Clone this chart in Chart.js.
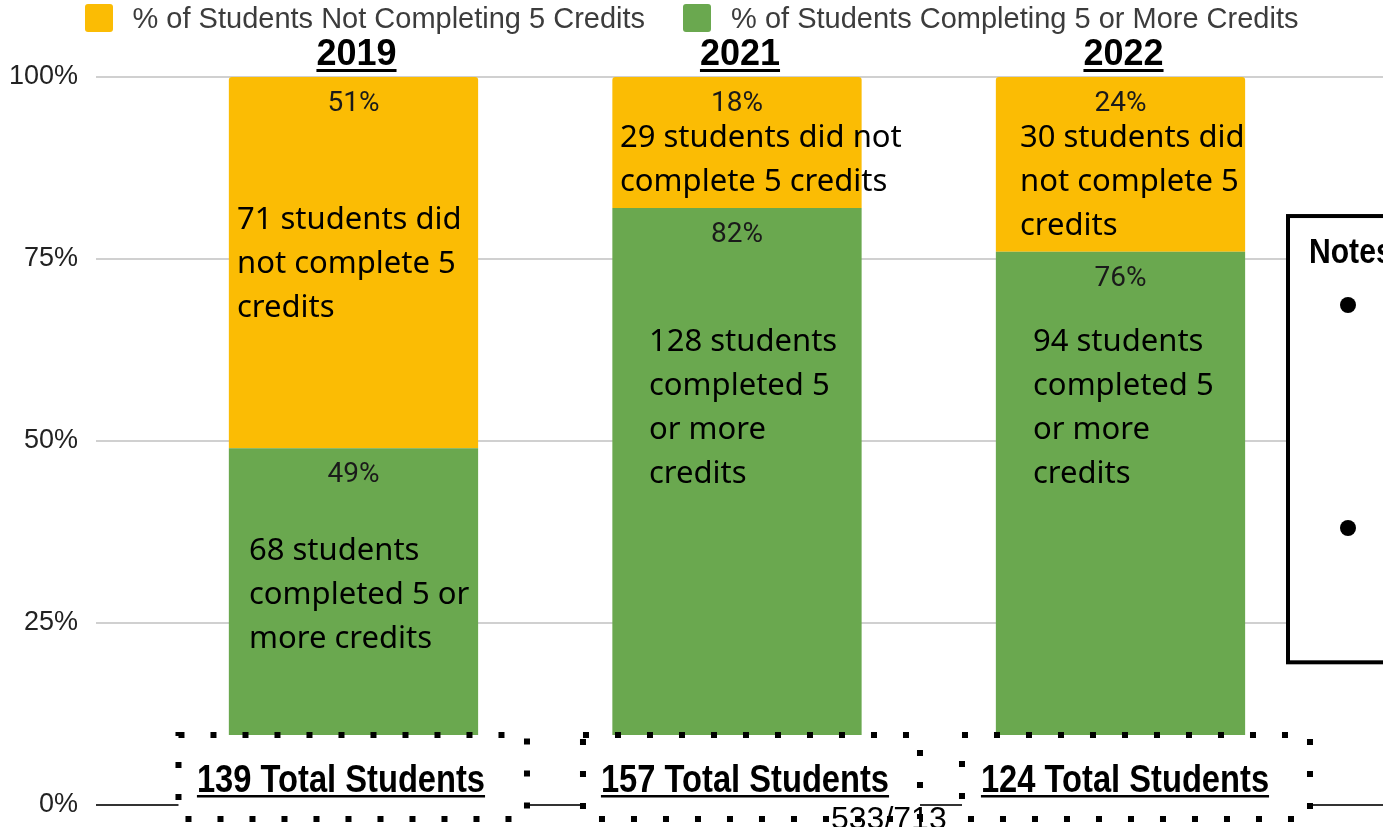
<!DOCTYPE html>
<html>
<head>
<meta charset="utf-8">
<title>Credit Completion by Year</title>
<script src="https://cdn.jsdelivr.net/npm/chart.js@4.4.1/dist/chart.umd.min.js"></script>
<style>
    html, body {
        margin: 0;
        padding: 0;
        background: #fff;
        overflow: hidden;
    }

    .wrap {
        position: relative;
        width: 1383px;
        height: 827px;
    }

    #creditChart {
        position: absolute;
        left: 0;
        top: 0;
    }

    .legend {
        position: absolute;
        left: 0;
        top: 0;
        width: 1383px;
        display: flex;
        justify-content: center;
        gap: 38px;
        font-family: 'Liberation Sans', Arial, sans-serif;
        font-size: 29px;
        color: #3c3c3c;
    }

    .legend-item {
        display: flex;
        align-items: center;
        height: 36px;
        white-space: nowrap;
    }

    .legend-swatch {
        width: 28px;
        height: 28px;
        border-radius: 3px;
        margin-right: 20px;
    }
</style>
</head>
<body>
<div class="wrap">
    <canvas id="creditChart" width="1383" height="827"></canvas>
    <div class="legend" id="legend"></div>
</div>

<script>
// 数据
const categories = ['2019', '2021', '2022'];
const completingPct = [49, 82, 76];
const notCompletingPct = [51, 18, 24];
const completedCounts = [68, 128, 94];
const notCompletedCounts = [71, 29, 30];
const totalStudents = [139, 157, 124];
const yTickValues = [0, 25, 50, 75, 100];
const seriesNames = ['% of Students Not Completing 5 Credits', '% of Students Completing 5 or More Credits'];
const pageLabel = '533/713';

const COLOR_NOT = '#fbbc04';
const COLOR_DONE = '#6aa84f';

// 粗体窄字：没有窄体字体，横向压缩
const NARROW_FAMILY = '"Liberation Sans", Arial, sans-serif';
const NARROW_SCALE = 0.86;

// 注释文字框的位置：相对于每根柱子的中心，y 用百分比刻度
const notLayout = [
    { dx: -116.5, y: 79.1, width: 240 },
    { dx: -117, y: 90.4, width: 290 },
    { dx: -100.5, y: 90.4, width: 240 }
];
const doneLayout = [
    { dx: -104.5, y: 33.7, width: 240 },
    { dx: -88, y: 62.3, width: 200 },
    { dx: -87.5, y: 62.3, width: 200 }
];
// 底部虚线框
const totalLayout = [
    { boxDx: -0.75, boxW: 348.5, textDx: -12.5 },
    { boxDx: 14.5, boxW: 337, textDx: 8 },
    { boxDx: 15.5, boxW: 348, textDx: 4.5 }
];

document.addEventListener('DOMContentLoaded', function() {
    buildLegend();
    initChart();
});

// 图例
function buildLegend() {
    const legend = document.getElementById('legend');
    const colors = [COLOR_NOT, COLOR_DONE];
    seriesNames.forEach((name, i) => {
        const item = document.createElement('div');
        item.className = 'legend-item';
        item.innerHTML = `<span class="legend-swatch" style="background:${colors[i]}"></span><span>${name}</span>`;
        legend.appendChild(item);
    });
}

// 按宽度折行
function wrapLines(ctx, text, maxWidth) {
    const words = text.split(' ');
    const lines = [];
    let line = '';
    words.forEach(word => {
        const test = line ? line + ' ' + word : word;
        if (line && ctx.measureText(test).width > maxWidth) {
            lines.push(line);
            line = word;
        } else {
            line = test;
        }
    });
    if (line) lines.push(line);
    return lines;
}

function drawUnderlined(ctx, text, x, y, offset, thickness) {
    const w = ctx.measureText(text).width;
    ctx.fillText(text, x, y);
    ctx.fillRect(x - w / 2, y + offset, w, thickness);
}

// 压缩后的粗体文字（可选下划线）
function drawNarrow(ctx, text, x, y, size, align, underline) {
    ctx.save();
    ctx.translate(x, y);
    ctx.scale(NARROW_SCALE, 1);
    ctx.font = `bold ${size}px ${NARROW_FAMILY}`;
    ctx.textAlign = align;
    ctx.fillText(text, 0, 0);
    if (underline) {
        const w = ctx.measureText(text).width;
        const left = align === 'center' ? -w / 2 : 0;
        ctx.fillRect(left, 3, w, 2.5);
    }
    ctx.restore();
}

function drawDottedBox(ctx, x, y, w, h) {
    ctx.save();
    ctx.fillStyle = '#fff';
    ctx.fillRect(x, y, w, h);
    ctx.strokeStyle = '#000';
    ctx.lineWidth = 6;
    ctx.lineCap = 'butt';
    ctx.setLineDash([6, 26]);
    ctx.strokeRect(x, y, w, h);
    ctx.restore();
}

// 柱内标签、注释、年份、虚线框等
const overlayPlugin = {
    id: 'overlays',
    afterDatasetsDraw(chart) {
        const ctx = chart.ctx;
        const xs = chart.scales.x;
        const ys = chart.scales.y;

        // 百分比标签
        ctx.save();
        ctx.font = '28px Roboto, "Liberation Sans", sans-serif';
        ctx.fillStyle = '#1a1a1a';
        ctx.textAlign = 'center';
        ctx.textBaseline = 'middle';
        chart.data.datasets.forEach((ds, di) => {
            chart.getDatasetMeta(di).data.forEach((bar, i) => {
                ctx.fillText(ds.data[i].y + '%', bar.x, bar.y + 27);
            });
        });
        ctx.restore();

        // 学生人数说明
        ctx.save();
        ctx.font = '31px "Noto Sans", sans-serif';
        ctx.fillStyle = '#000';
        ctx.textAlign = 'left';
        ctx.textBaseline = 'alphabetic';
        categories.forEach((c, i) => {
            const cx = xs.getPixelForValue(i);
            const notes = [
                [notCompletedCounts[i] + ' students did not complete 5 credits', notLayout[i]],
                [completedCounts[i] + ' students completed 5 or more credits', doneLayout[i]]
            ];
            notes.forEach(([text, pos]) => {
                const lines = wrapLines(ctx, text, pos.width);
                const top = ys.getPixelForValue(pos.y);
                lines.forEach((ln, k) => {
                    ctx.fillText(ln, cx + pos.dx, top + k * 44);
                });
            });
        });
        ctx.restore();
    },
    afterDraw(chart) {
        const ctx = chart.ctx;
        const xs = chart.scales.x;
        const ys = chart.scales.y;
        const area = chart.chartArea;
        const yZero = ys.getPixelForValue(0);

        // 年份标题
        ctx.save();
        ctx.font = 'bold 36px "Liberation Sans", Arial, sans-serif';
        ctx.fillStyle = '#000';
        ctx.textAlign = 'center';
        categories.forEach((c, i) => {
            drawUnderlined(ctx, c, xs.getPixelForValue(i) + 3, area.top - 12, 4, 3);
        });
        ctx.restore();

        // 总人数虚线框
        categories.forEach((c, i) => {
            const cx = xs.getPixelForValue(i);
            const t = totalLayout[i];
            drawDottedBox(ctx, cx + t.boxDx - t.boxW / 2, yZero - 70, t.boxW, 84);
        });
        ctx.save();
        ctx.fillStyle = '#000';
        categories.forEach((c, i) => {
            const cx = xs.getPixelForValue(i);
            drawNarrow(ctx, totalStudents[i] + ' Total Students', cx + totalLayout[i].textDx, yZero - 13, 38, 'center', true);
        });
        ctx.restore();

        // 右侧备注框
        ctx.save();
        const boxTop = ys.getPixelForValue(80.9);
        const boxBottom = ys.getPixelForValue(19.6);
        ctx.fillStyle = '#fff';
        ctx.fillRect(1288, boxTop, 140, boxBottom - boxTop);
        ctx.strokeStyle = '#000';
        ctx.lineWidth = 4;
        ctx.strokeRect(1288, boxTop, 140, boxBottom - boxTop);
        ctx.fillStyle = '#000';
        drawNarrow(ctx, 'Notes', 1309, boxTop + 47, 35, 'left', false);
        [305, 528].forEach(by => {
            ctx.beginPath();
            ctx.arc(1348, by, 8, 0, Math.PI * 2);
            ctx.fill();
        });
        ctx.restore();

        // 页码
        ctx.save();
        ctx.font = '32px "Liberation Sans", Arial, sans-serif';
        ctx.fillStyle = '#000';
        ctx.textAlign = 'left';
        ctx.fillText(pageLabel, 831, 829);
        ctx.restore();
    }
};

function initChart() {
    const canvas = document.getElementById('creditChart');
    new Chart(canvas, {
        type: 'bar',
        data: {
            datasets: [{
                label: seriesNames[1],
                data: completingPct.map((v, i) => ({ x: i, y: v })),
                backgroundColor: COLOR_DONE,
                borderWidth: 0
            }, {
                label: seriesNames[0],
                data: notCompletingPct.map((v, i) => ({ x: i, y: v })),
                backgroundColor: COLOR_NOT,
                borderWidth: 0,
                borderRadius: { topLeft: 3, topRight: 3, bottomLeft: 0, bottomRight: 0 },
                borderSkipped: 'start'
            }]
        },
        options: {
            responsive: false,
            animation: false,
            devicePixelRatio: 1,
            categoryPercentage: 1,
            barPercentage: 0.65,
            layout: {
                padding: { top: 77, bottom: 22, left: 0, right: 0 }
            },
            plugins: {
                legend: { display: false },
                tooltip: { enabled: false }
            },
            scales: {
                x: {
                    type: 'linear',
                    display: false,
                    stacked: true,
                    offset: false,
                    bounds: 'data',
                    min: -0.6714,
                    max: 2.6845,
                    afterBuildTicks: axis => {
                        axis.ticks = categories.map((c, i) => ({ value: i }));
                    }
                },
                y: {
                    stacked: true,
                    min: 0,
                    max: 100,
                    afterBuildTicks: axis => {
                        axis.ticks = yTickValues.map(v => ({ value: v }));
                    },
                    afterFit: axis => {
                        axis.width = 96;
                        axis.paddingTop = 0;
                        axis.paddingBottom = 0;
                    },
                    border: { display: false },
                    grid: {
                        drawTicks: false,
                        lineWidth: 2,
                        color: ctx => ctx.tick && ctx.tick.value === 0 ? '#333' : '#d0d0d0'
                    },
                    ticks: {
                        padding: 18,
                        color: '#222',
                        font: { family: "'Liberation Sans', Arial, sans-serif", size: 27, lineHeight: 0.6 },
                        callback: v => v + '%'
                    }
                }
            }
        },
        plugins: [overlayPlugin]
    });
}
</script>
</body>
</html>
